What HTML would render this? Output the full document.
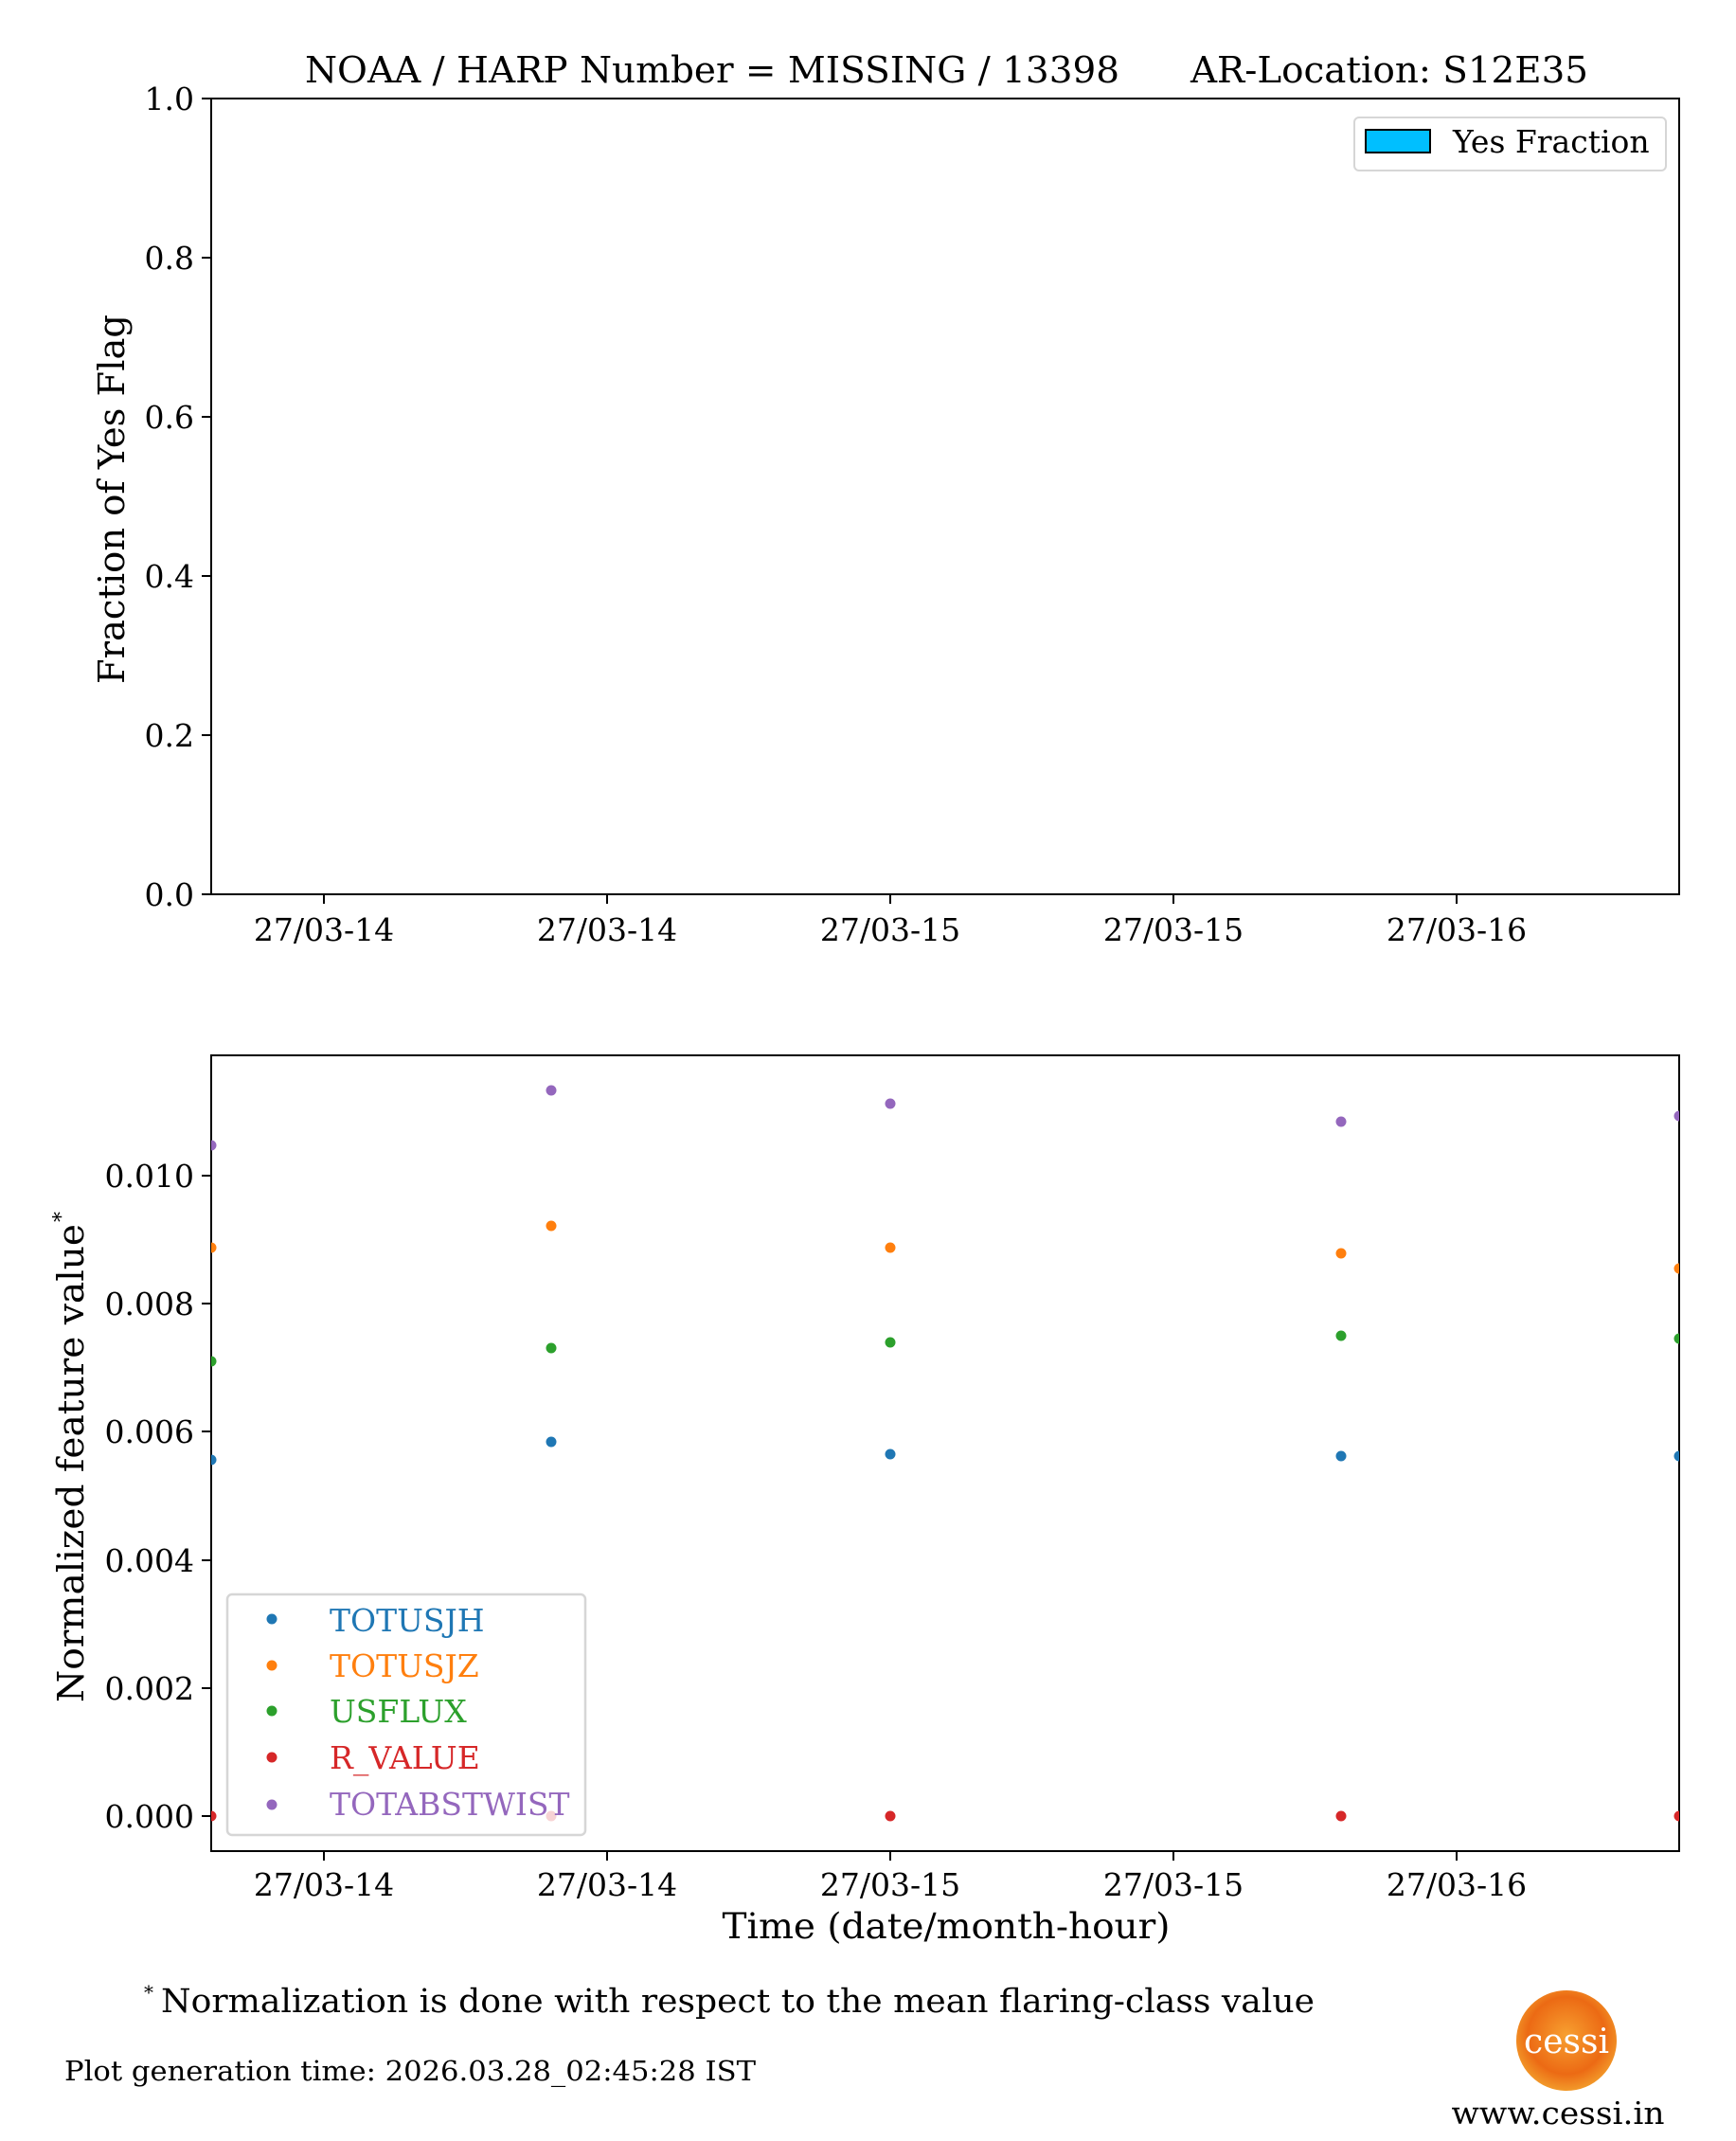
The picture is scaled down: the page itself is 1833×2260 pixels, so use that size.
<!DOCTYPE html>
<html><head><meta charset="utf-8"><style>html,body{margin:0;padding:0;background:#fff}svg{display:block}</style></head><body>
<svg xmlns="http://www.w3.org/2000/svg" width="1833" height="2260" viewBox="0 0 1833 2260" font-family="'DejaVu Serif','Liberation Serif',serif">
<rect width="1833" height="2260" fill="#fff"/>
<text x="322" y="87" font-size="38" textLength="860" lengthAdjust="spacingAndGlyphs">NOAA / HARP Number = MISSING / 13398</text>
<text x="1257" y="87" font-size="38" textLength="420" lengthAdjust="spacingAndGlyphs">AR-Location: S12E35</text>
<!-- top axes -->
<rect x="223" y="104" width="1550" height="840" fill="none" stroke="#000" stroke-width="2"/>
<g stroke="#000" stroke-width="2">
<line x1="213" y1="944" x2="223" y2="944"/><line x1="213" y1="776" x2="223" y2="776"/><line x1="213" y1="608" x2="223" y2="608"/><line x1="213" y1="440" x2="223" y2="440"/><line x1="213" y1="272" x2="223" y2="272"/><line x1="213" y1="104" x2="223" y2="104"/>
<line x1="342" y1="944" x2="342" y2="954"/><line x1="641" y1="944" x2="641" y2="954"/><line x1="940" y1="944" x2="940" y2="954"/><line x1="1239" y1="944" x2="1239" y2="954"/><line x1="1538" y1="944" x2="1538" y2="954"/>
</g>
<g font-size="33" text-anchor="end">
<text x="205" y="956">0.0</text><text x="205" y="788">0.2</text><text x="205" y="620">0.4</text><text x="205" y="452">0.6</text><text x="205" y="284">0.8</text><text x="205" y="116">1.0</text>
</g>
<g font-size="33" text-anchor="middle">
<text x="342" y="993">27/03-14</text><text x="641" y="993">27/03-14</text><text x="940" y="993">27/03-15</text><text x="1239" y="993">27/03-15</text><text x="1538" y="993">27/03-16</text>
</g>
<text transform="translate(131,527) rotate(-90)" font-size="38" text-anchor="middle" textLength="390" lengthAdjust="spacingAndGlyphs">Fraction of Yes Flag</text>
<rect x="1430" y="124" width="329" height="56" rx="5" fill="#fff" stroke="#d6d6d6" stroke-width="2"/>
<rect x="1442" y="137" width="68" height="24" fill="#00bfff" stroke="#000" stroke-width="2"/>
<text x="1534" y="161" font-size="33">Yes Fraction</text>
<!-- bottom axes -->
<rect x="223" y="1114" width="1550" height="840" fill="none" stroke="#000" stroke-width="2"/>
<g stroke="#000" stroke-width="2">
<line x1="213" y1="1917" x2="223" y2="1917"/><line x1="213" y1="1782" x2="223" y2="1782"/><line x1="213" y1="1647" x2="223" y2="1647"/><line x1="213" y1="1511" x2="223" y2="1511"/><line x1="213" y1="1376" x2="223" y2="1376"/><line x1="213" y1="1241" x2="223" y2="1241"/>
<line x1="342" y1="1954" x2="342" y2="1964"/><line x1="641" y1="1954" x2="641" y2="1964"/><line x1="940" y1="1954" x2="940" y2="1964"/><line x1="1239" y1="1954" x2="1239" y2="1964"/><line x1="1538" y1="1954" x2="1538" y2="1964"/>
</g>
<g font-size="33" text-anchor="end">
<text x="205" y="1929">0.000</text><text x="205" y="1794">0.002</text><text x="205" y="1659">0.004</text><text x="205" y="1523">0.006</text><text x="205" y="1388">0.008</text><text x="205" y="1253">0.010</text>
</g>
<g font-size="33" text-anchor="middle">
<text x="342" y="2001">27/03-14</text><text x="641" y="2001">27/03-14</text><text x="940" y="2001">27/03-15</text><text x="1239" y="2001">27/03-15</text><text x="1538" y="2001">27/03-16</text>
</g>
<text transform="translate(88,1797) rotate(-90)" font-size="38" textLength="505" lengthAdjust="spacingAndGlyphs">Normalized feature value</text>
<text transform="translate(72,1290) rotate(-90)" font-size="22">*</text>
<text x="999" y="2046" font-size="37" text-anchor="middle" textLength="473" lengthAdjust="spacingAndGlyphs">Time (date/month-hour)</text>
<svg x="223" y="1114" width="1550" height="840" overflow="hidden">
<g transform="translate(-223,-1114)">
<g fill="#9467bd"><circle cx="223" cy="1209" r="5.5"/><circle cx="582" cy="1151" r="5.5"/><circle cx="940" cy="1165" r="5.5"/><circle cx="1416" cy="1184" r="5.5"/><circle cx="1773" cy="1178" r="5.5"/></g>
<g fill="#ff7f0e"><circle cx="223" cy="1317" r="5.5"/><circle cx="582" cy="1294" r="5.5"/><circle cx="940" cy="1317" r="5.5"/><circle cx="1416" cy="1323" r="5.5"/><circle cx="1773" cy="1339" r="5.5"/></g>
<g fill="#2ca02c"><circle cx="223" cy="1437" r="5.5"/><circle cx="582" cy="1423" r="5.5"/><circle cx="940" cy="1417" r="5.5"/><circle cx="1416" cy="1410" r="5.5"/><circle cx="1773" cy="1413" r="5.5"/></g>
<g fill="#1f77b4"><circle cx="223" cy="1541" r="5.5"/><circle cx="582" cy="1522" r="5.5"/><circle cx="940" cy="1535" r="5.5"/><circle cx="1416" cy="1537" r="5.5"/><circle cx="1773" cy="1537" r="5.5"/></g>
<g fill="#d62728"><circle cx="223" cy="1917" r="5.5"/><circle cx="582" cy="1917" r="5.5"/><circle cx="940" cy="1917" r="5.5"/><circle cx="1416" cy="1917" r="5.5"/><circle cx="1773" cy="1917" r="5.5"/></g>
</g></svg>
<rect x="240" y="1683" width="378" height="254" rx="5" fill="#fff" fill-opacity="0.8" stroke="#d6d6d6" stroke-width="2.5"/>
<circle cx="287" cy="1709" r="5.5" fill="#1f77b4"/><circle cx="287" cy="1758" r="5.5" fill="#ff7f0e"/><circle cx="287" cy="1806" r="5.5" fill="#2ca02c"/><circle cx="287" cy="1855" r="5.5" fill="#d62728"/><circle cx="287" cy="1905" r="5.5" fill="#9467bd"/>
<g font-size="33">
<text x="348" y="1722" fill="#1f77b4">TOTUSJH</text>
<text x="348" y="1770" fill="#ff7f0e">TOTUSJZ</text>
<text x="348" y="1818" fill="#2ca02c">USFLUX</text>
<text x="348" y="1867" fill="#d62728">R_VALUE</text>
<text x="348" y="1916" fill="#9467bd">TOTABSTWIST</text>
</g>
<text x="152" y="2110" font-size="20">*</text>
<text x="170" y="2124" font-size="35" textLength="1218" lengthAdjust="spacingAndGlyphs">Normalization is done with respect to the mean flaring-class value</text>
<text x="68" y="2196" font-size="29" textLength="730" lengthAdjust="spacingAndGlyphs">Plot generation time: 2026.03.28_02:45:28 IST</text>
<defs><radialGradient id="sun" cx="50%" cy="45%" r="55%"><stop offset="0" stop-color="#f7a030"/><stop offset="0.7" stop-color="#ec6a14"/><stop offset="1" stop-color="#f29a2a"/></radialGradient></defs>
<circle cx="1654" cy="2154" r="53" fill="url(#sun)"/>
<text x="1654" y="2167" font-size="36" fill="#fff" text-anchor="middle">cessi</text>
<text x="1645" y="2242" font-size="33" text-anchor="middle" textLength="225" lengthAdjust="spacingAndGlyphs">www.cessi.in</text>
</svg>
</body></html>
